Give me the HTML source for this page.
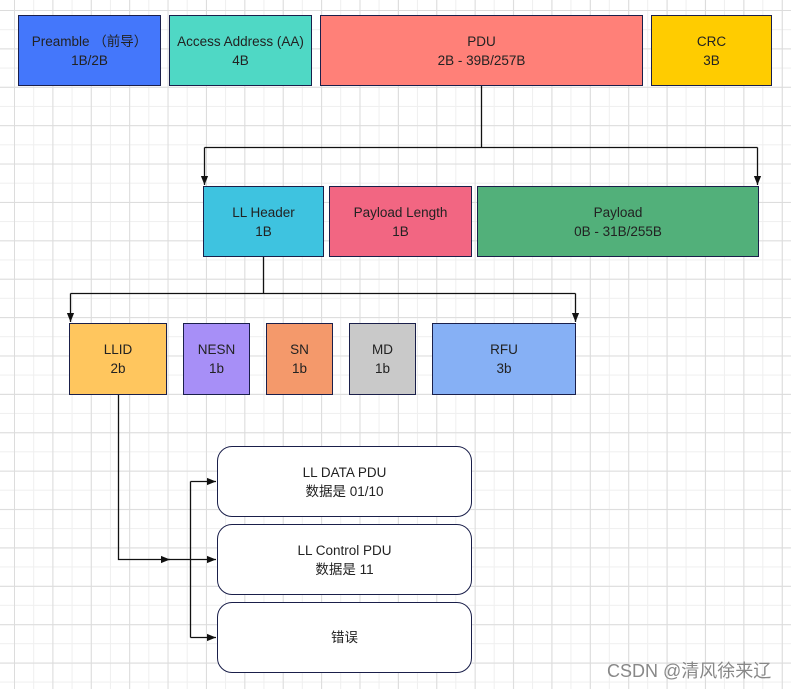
<!DOCTYPE html>
<html><head><meta charset="utf-8"><style>
html,body{margin:0;padding:0}
body{width:791px;height:689px;position:relative;overflow:hidden;background-color:#fff;
background-image:linear-gradient(#dcdcdc 1px,transparent 1px),linear-gradient(90deg,#dcdcdc 1px,transparent 1px),linear-gradient(#efefef 1px,transparent 1px),linear-gradient(90deg,#efefef 1px,transparent 1px);
background-size:38.4px 38.4px,38.4px 38.4px,19.2px 19.2px,19.2px 19.2px;
background-position:0 10px,14px 0,0 10px,14px 0;
font-family:"Liberation Sans","Noto Sans CJK SC",sans-serif;font-size:13.5px;color:#222}
.b{position:absolute;box-sizing:border-box;border:1px solid #1a1f4a;display:flex;align-items:center;justify-content:center;text-align:center;line-height:19px}
.r{background:#fff;border-radius:15px}
svg{position:absolute;left:0;top:0}
.wm{position:absolute;left:607px;top:657px;font-size:18px;color:#888;white-space:nowrap}
</style></head><body>
<div class="b" style="left:18px;top:15px;width:143px;height:71px;background:#4477fb">Preamble （前导）<br>1B/2B</div>
<div class="b" style="left:169px;top:15px;width:143px;height:71px;background:#4fd8c5">Access Address (AA)<br>4B</div>
<div class="b" style="left:320px;top:15px;width:323px;height:71px;background:#ff8078">PDU<br>2B - 39B/257B</div>
<div class="b" style="left:651px;top:15px;width:121px;height:71px;background:#ffcc00">CRC<br>3B</div>
<div class="b" style="left:203px;top:186px;width:121px;height:71px;background:#3ec3e0">LL Header<br>1B</div>
<div class="b" style="left:329px;top:186px;width:143px;height:71px;background:#f26682">Payload Length<br>1B</div>
<div class="b" style="left:477px;top:186px;width:282px;height:71px;background:#52b07a">Payload<br>0B - 31B/255B</div>
<div class="b" style="left:69px;top:323px;width:98px;height:72px;background:#ffc65e">LLID<br>2b</div>
<div class="b" style="left:183px;top:323px;width:67px;height:72px;background:#a78ff7">NESN<br>1b</div>
<div class="b" style="left:266px;top:323px;width:67px;height:72px;background:#f4996b">SN<br>1b</div>
<div class="b" style="left:349px;top:323px;width:67px;height:72px;background:#c9c9c9">MD<br>1b</div>
<div class="b" style="left:432px;top:323px;width:144px;height:72px;background:#86b0f5">RFU<br>3b</div>
<div class="b r" style="left:217px;top:446px;width:255px;height:71px">LL DATA PDU<br>数据是 01/10</div>
<div class="b r" style="left:217px;top:524px;width:255px;height:71px">LL Control PDU<br>数据是 11</div>
<div class="b r" style="left:217px;top:602px;width:255px;height:71px">错误</div>
<svg width="791" height="689" fill="none" stroke="#111" stroke-width="1.3">
<defs><marker id="a" viewBox="0 0 10 10" refX="10" refY="5" markerWidth="7" markerHeight="7" orient="auto"><path d="M0,1 L10,5 L0,9 Z" fill="#111" stroke="none"/></marker></defs>
<path d="M481.5,86 V147.5"/>
<path d="M204.5,147.5 H757.5"/>
<path d="M204.5,147.5 V185" marker-end="url(#a)"/>
<path d="M757.5,147.5 V185" marker-end="url(#a)"/>
<path d="M263.5,257 V293.5 M70.5,293.5 H575.5"/>
<path d="M70.5,293.5 V322" marker-end="url(#a)"/>
<path d="M575.5,293.5 V322" marker-end="url(#a)"/>
<path d="M118.5,395 V559.5 H170" marker-end="url(#a)"/>
<path d="M168,559.5 H190.5 M190.5,481.5 V637.5"/>
<path d="M190.5,481.5 H216" marker-end="url(#a)"/>
<path d="M190.5,559.5 H216" marker-end="url(#a)"/>
<path d="M190.5,637.5 H216" marker-end="url(#a)"/>
</svg>
<div class="wm">CSDN @清风徐来辽</div>
</body></html>
